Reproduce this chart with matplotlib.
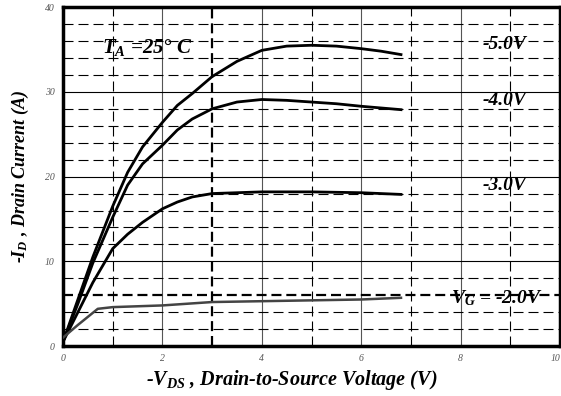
import matplotlib
matplotlib.use("Agg")
import matplotlib.pyplot as plt

# -V_DS (V) sample points and -I_D (A) for each gate voltage
vds_5 = [0.0, 0.3, 0.6, 1.0, 1.3, 1.6, 2.0, 2.3, 2.6, 3.0, 3.5, 4.0, 4.5, 5.0, 5.5, 6.0, 6.4, 6.8]
id_5 = [0.5, 5.5, 10.5, 16.5, 20.5, 23.5, 26.4, 28.4, 29.8, 31.8, 33.6, 34.9, 35.4, 35.5, 35.4, 35.1, 34.8, 34.4]

vds_4 = [0.0, 0.3, 0.6, 1.0, 1.3, 1.6, 2.0, 2.3, 2.6, 3.0, 3.5, 4.0, 4.5, 5.0, 5.5, 6.0, 6.4, 6.8]
id_4 = [0.5, 5.0, 9.8, 15.2, 19.0, 21.5, 23.7, 25.5, 26.8, 28.0, 28.8, 29.1, 29.0, 28.8, 28.6, 28.3, 28.1, 27.9]

vds_3 = [0.0, 0.3, 0.6, 0.85, 1.0, 1.3, 1.6, 2.0, 2.3, 2.6, 3.0, 3.5, 4.0, 5.0, 6.0, 6.8]
id_3 = [0.5, 4.0, 7.5, 10.0, 11.5, 13.2, 14.6, 16.2, 17.0, 17.6, 18.0, 18.1, 18.2, 18.2, 18.1, 17.9]

vds_2 = [0.0, 0.3, 0.7, 1.0, 2.0, 2.5, 3.0, 4.0, 5.0, 6.0, 6.8]
id_2 = [1.0, 2.5, 4.4, 4.6, 4.8, 5.0, 5.2, 5.3, 5.4, 5.5, 5.7]

x_ticks = [0, 2, 4, 6, 8, 10]
y_ticks = [0, 10, 20, 30, 40]
gate_labels = ["-5.0V", "-4.0V", "-3.0V", r"$V_G$ = -2.0V"]

plt.rcParams["font.family"] = ["Liberation Serif", "DejaVu Serif"]
plt.rcParams["mathtext.fontset"] = "custom"
plt.rcParams["mathtext.it"] = "Liberation Serif:italic:bold"
plt.rcParams["mathtext.rm"] = "Liberation Serif:bold"

fig = plt.figure(figsize=(5.61, 3.96), dpi=100)
ax = fig.add_axes([0.1123, 0.126, 0.886, 0.856])

# grid: solid every 2 V / 10 A, dashed in between, two heavier dashed markers
dash = (0, (9, 4.5))
for x in range(1, 10):
    if x % 2 == 0:
        ax.axvline(x, color="#555555", lw=0.8, zorder=1)
    elif x == 3:
        ax.axvline(x, color="black", lw=1.6, ls=(0, (4.5, 2.2)), zorder=1)
    else:
        ax.axvline(x, color="black", lw=0.8, ls=dash, zorder=1)
for y in range(2, 40, 2):
    if y % 10 == 0:
        ax.axhline(y, color="black", lw=0.8, zorder=1)
    elif y == 6:
        ax.axhline(y, color="black", lw=1.6, ls=(0, (4.5, 2.2)), zorder=1)
    else:
        ax.axhline(y, color="black", lw=0.8, ls=dash, zorder=1)

ax.plot(vds_5, id_5, color="black", lw=2.0, zorder=3)
ax.plot(vds_4, id_4, color="black", lw=2.0, zorder=3)
ax.plot(vds_3, id_3, color="black", lw=2.0, zorder=3)
ax.plot(vds_2, id_2, color="#444444", lw=1.8, zorder=3)

txt = dict(fontsize=14, fontweight="bold", fontstyle="italic", zorder=4)
ax.text(8.45, 35.6, gate_labels[0], va="center", ha="left", **txt)
ax.text(8.45, 29.0, gate_labels[1], va="center", ha="left", **txt)
ax.text(8.45, 19.0, gate_labels[2], va="center", ha="left", **txt)
ax.text(7.8, 5.7, gate_labels[3], va="center", ha="left", **txt)
ax.text(0.78, 35.2, r"$T_A$ =25° C", va="center", ha="left",
        **dict(txt, fontsize=15))

ax.set_xlim(0, 10)
ax.set_ylim(0, 40)
ax.set_xticks(x_ticks)
ax.set_yticks(y_ticks)
ax.tick_params(length=0, labelsize=7, labelcolor="#555555", pad=6)
for lab in ax.get_xticklabels() + ax.get_yticklabels():
    lab.set_fontstyle("italic")
ax.get_xticklabels()[-1].set_horizontalalignment("right")
for sp in ax.spines.values():
    sp.set_linewidth(2.5)

ax.set_xlabel(r"-$V_{DS}$ , Drain-to-Source Voltage (V)", fontsize=14.5,
              fontweight="bold", fontstyle="italic", labelpad=3, x=0.46)
ax.set_ylabel(r"-$I_D$ , Drain Current (A)", fontsize=13,
              fontweight="bold", fontstyle="italic", labelpad=10)

fig.savefig("out.png", dpi=100)
